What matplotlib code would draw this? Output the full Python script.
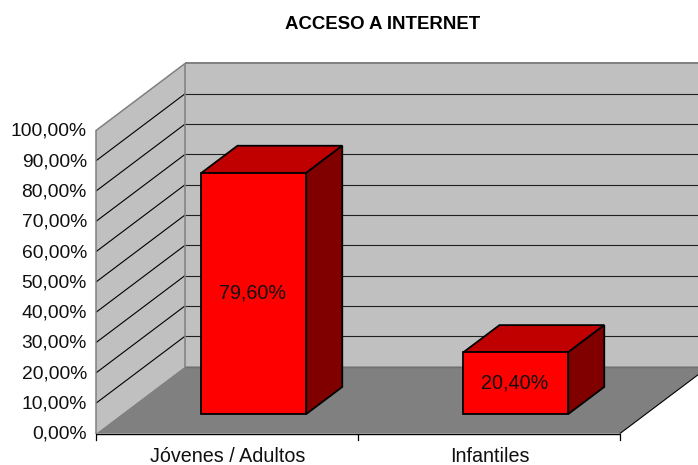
import matplotlib
matplotlib.use("Agg")
import matplotlib.pyplot as plt
from matplotlib.patches import Polygon

plt.rcParams['font.family'] = ['Liberation Sans', 'DejaVu Sans']

title = "ACCESO A INTERNET"
categories = ["Jóvenes / Adultos", "Infantiles"]
values = [79.6, 20.4]
value_labels = ["79,60%", "20,40%"]
ticks = [0, 10, 20, 30, 40, 50, 60, 70, 80, 90, 100]
tick_labels = ["0,00%", "10,00%", "20,00%", "30,00%", "40,00%", "50,00%",
               "60,00%", "70,00%", "80,00%", "90,00%", "100,00%"]

W, H = 698, 465
X0, SLOT = 96.0, 262.0          # px of axis origin, px per category
Y0, PXV = 433.5, 3.03           # px of value 0, px per value unit
DX, DY = 89.0, 67.0             # depth shift in px
BAR_W = 0.40
BAR_SHIFT = 1.0 / SLOT
D0, D1 = 0.29, 0.695

fig = plt.figure(figsize=(W / 100, H / 100), dpi=100)
ax = fig.add_axes([0, 0, 1, 1])
ax.set_xlim(-0.5 - X0 / SLOT, -0.5 + (W - X0) / SLOT)
ax.set_ylim(-(H - Y0) / PXV, Y0 / PXV)
ax.axis("off")


def P(c, v, d=0.0):
    return (c + d * DX / SLOT, v + d * DY / PXV)


def poly(pts, fc, ec="none", lw=0.0, z=1):
    ax.add_patch(Polygon(pts, closed=True, facecolor=fc, edgecolor=ec, linewidth=lw,
                         zorder=z, joinstyle="miter", clip_on=True))


left, right = -0.5, -0.5 + len(categories)
far = ax.get_xlim()[1] + 0.2
vmin, vmax = ticks[0], ticks[-1]

# back wall, side wall, floor
poly([P(left, vmin, 1), P(far, vmin, 1), P(far, vmax, 1), P(left, vmax, 1)], "#c0c0c0", z=1)
poly([P(left, vmin, 0), P(left, vmin, 1), P(left, vmax, 1), P(left, vmax, 0)], "#c0c0c0", z=1)
poly([P(left, vmin, 0), P(right, vmin, 0), P(right, vmin, 1), P(far, vmin, 1), P(left, vmin, 1)],
     "#808080", z=2)


def seg(a, b, color, lw, z=3):
    ax.plot([a[0], b[0]], [a[1], b[1]], color=color, lw=lw, zorder=z, solid_capstyle="butt")


for t in ticks[1:-1]:
    seg(P(left, t, 0), P(left, t, 1), "black", 0.8)
    seg(P(left, t, 1), P(far, t, 1), "#202020", 0.8)

# wall outlines
seg(P(left, vmin, 0), P(left, vmax, 0), "#808080", 1.1)
seg(P(left, vmax, 0), P(left, vmax, 1), "#808080", 1.1)
seg(P(left, vmax, 1), P(far, vmax, 1), "#808080", 1.4)
seg(P(left, vmin, 1), P(left, vmax, 1), "#808080", 1.1)
seg(P(left, vmin, 1), P(far, vmin, 1), "#707070", 1.0)
seg(P(right, vmin, 0), P(right, vmin, 1), "black", 0.8)

# axis lines and ticks
seg(P(left, vmin, 0), P(right, vmin, 0), "black", 1.0, z=4)
for i in range(len(categories) + 1):
    ax.plot([left + i, left + i], [vmin, vmin - 6 / PXV], color="black", lw=0.9, zorder=4)
for t, lab in zip(ticks, tick_labels):
    ax.text(left - 9 / SLOT, t - 0.8 / PXV, lab, ha="right", va="center", fontsize=13.9, color="#101010")

# bars
for i, (cat, v, lab) in enumerate(zip(categories, values, value_labels)):
    x0, x1 = i - BAR_W / 2 + BAR_SHIFT, i + BAR_W / 2 + BAR_SHIFT
    top = [P(x0, v, D0), P(x1, v, D0), P(x1, v, D1), P(x0, v, D1)]
    side = [P(x1, 0, D0), P(x1, 0, D1), P(x1, v, D1), P(x1, v, D0)]
    front = [P(x0, 0, D0), P(x1, 0, D0), P(x1, v, D0), P(x0, v, D0)]
    poly(top, "#c00000", "black", 1.3, z=5)
    poly(side, "#800000", "black", 1.3, z=5)
    poly(front, "#ff0000", "black", 1.3, z=6)
    cx, _ = P(i, 0, D0)
    ax.text(cx, v / 2 + D0 * DY / PXV, lab, ha="center", va="center", fontsize=14.2, color="#101010", zorder=7)
    ax.text(i + 1 / SLOT, vmin - 23 / PXV, cat, ha="center", va="center", fontsize=14.2, color="#101010")

ax.text(0.548, 0.948, title, transform=ax.transAxes, ha="center", va="center",
        fontsize=13.4, fontweight="bold", color="black")

fig.savefig("out.png", dpi=100, facecolor="white")
